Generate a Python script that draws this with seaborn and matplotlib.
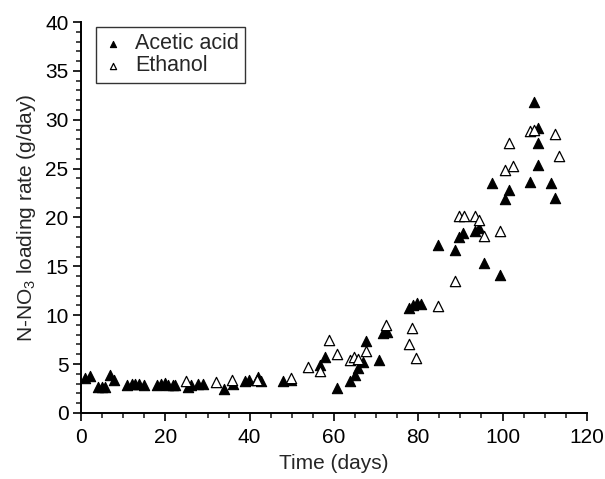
import matplotlib
matplotlib.use("Agg")
import matplotlib.pyplot as plt
from matplotlib.ticker import MultipleLocator
import pandas as pd
import seaborn as sns

# acetic acid (filled triangles)
acetic_day = [0.9, 2.1, 3.9, 4.9, 5.7, 6.9, 7.7, 11.0, 12.0, 12.8, 13.8, 14.9,
              17.9, 18.9, 19.9, 20.7, 21.7, 22.3, 25.4, 26.2, 27.8, 29.0, 34.0,
              36.1, 38.9, 39.8, 41.9, 42.8, 47.8, 49.9, 56.8, 57.8, 60.7, 63.7,
              64.9, 65.7, 66.8, 67.7, 70.7, 71.6, 72.6, 77.8, 78.7, 79.7, 80.7,
              84.7, 88.6, 89.6, 90.6, 93.4, 94.5, 95.6, 97.5, 99.5, 100.5, 101.5,
              106.4, 107.4, 108.4, 108.4, 108.4, 111.4, 112.5]
acetic_rate = [3.6, 3.8, 2.7, 2.7, 2.6, 3.9, 3.4, 2.9, 3.0, 3.0, 3.0, 2.9,
               2.9, 3.0, 3.1, 2.9, 2.9, 2.9, 2.6, 2.9, 3.0, 3.0, 2.4,
               3.0, 3.3, 3.4, 3.7, 3.3, 3.3, 3.4, 4.9, 5.7, 2.5, 3.3,
               3.9, 4.6, 5.2, 7.4, 5.4, 8.2, 8.3, 10.7, 11.0, 11.2, 11.1,
               17.2, 16.7, 18.0, 18.4, 18.6, 18.9, 15.3, 23.5, 14.1, 21.9, 22.8,
               23.6, 31.8, 29.2, 27.6, 25.4, 23.5, 22.0]

# ethanol (open triangles)
ethanol_day = [25.0, 31.9, 35.9, 41.7, 49.9, 53.9, 56.8, 58.8, 60.7, 63.7, 64.7,
               65.7, 67.7, 72.4, 77.7, 78.6, 79.5, 84.7, 88.6, 89.6, 90.8, 93.4,
               94.5, 95.5, 99.5, 100.5, 101.5, 102.4, 106.4, 107.4, 112.5, 113.3]
ethanol_rate = [3.3, 3.2, 3.4, 3.4, 3.6, 4.7, 4.3, 7.5, 6.0, 5.4, 5.7,
                5.5, 6.3, 9.0, 7.0, 8.7, 5.6, 10.9, 13.5, 20.1, 20.1, 20.2,
                19.7, 18.1, 18.6, 24.9, 27.6, 25.3, 28.8, 28.9, 28.5, 26.3]

df = pd.concat([
    pd.DataFrame({"day": acetic_day, "rate": acetic_rate, "substrate": "Acetic acid"}),
    pd.DataFrame({"day": ethanol_day, "rate": ethanol_rate, "substrate": "Ethanol"}),
], ignore_index=True)

sns.set_style("ticks")
plt.rcParams["font.family"] = ["Liberation Sans", "DejaVu Sans"]
plt.rcParams["mathtext.fontset"] = "custom"
plt.rcParams["mathtext.rm"] = "Liberation Sans"

fig = plt.figure(figsize=(6.05, 4.79), dpi=100)
ax = fig.add_axes([0.134, 0.138, 0.836, 0.816])

sns.scatterplot(data=df[df.substrate == "Acetic acid"], x="day", y="rate",
                marker="^", s=55, color="black", edgecolor="black",
                linewidth=0.8, label="Acetic acid", ax=ax, zorder=3)
sns.scatterplot(data=df[df.substrate == "Ethanol"], x="day", y="rate",
                marker="^", s=55, facecolor="white", edgecolor="black",
                linewidth=0.9, label="Ethanol", ax=ax, zorder=4)

ax.set_xlim(0, 120)
ax.set_ylim(0, 40)
ax.xaxis.set_major_locator(MultipleLocator(20))
ax.xaxis.set_minor_locator(MultipleLocator(5))
ax.yaxis.set_major_locator(MultipleLocator(5))
ax.yaxis.set_minor_locator(MultipleLocator(1))
ax.tick_params(which="major", direction="out", length=6, width=1.2,
               labelsize=15, colors="black", pad=3)
ax.tick_params(axis="x", which="major", pad=5)
ax.tick_params(which="minor", direction="out", length=3.5, width=1.2)
for side in ["top", "right"]:
    ax.spines[side].set_visible(False)
for side in ["left", "bottom"]:
    ax.spines[side].set_linewidth(1.4)
    ax.spines[side].set_color("black")

ax.set_xlabel("Time (days)", fontsize=15, labelpad=5)
ax.set_ylabel("N-NO$_3$ loading rate (g/day)", fontsize=15, labelpad=5)

leg = ax.legend(loc="upper left", bbox_to_anchor=(0.03, 0.988), fontsize=15.5,
                frameon=True, fancybox=False, edgecolor="black",
                markerscale=0.6, handletextpad=0.5, borderpad=0.3,
                handlelength=1.0, labelspacing=0.05, borderaxespad=0)
leg.get_frame().set_linewidth(1.0)

fig.savefig("out.png", dpi=100)
